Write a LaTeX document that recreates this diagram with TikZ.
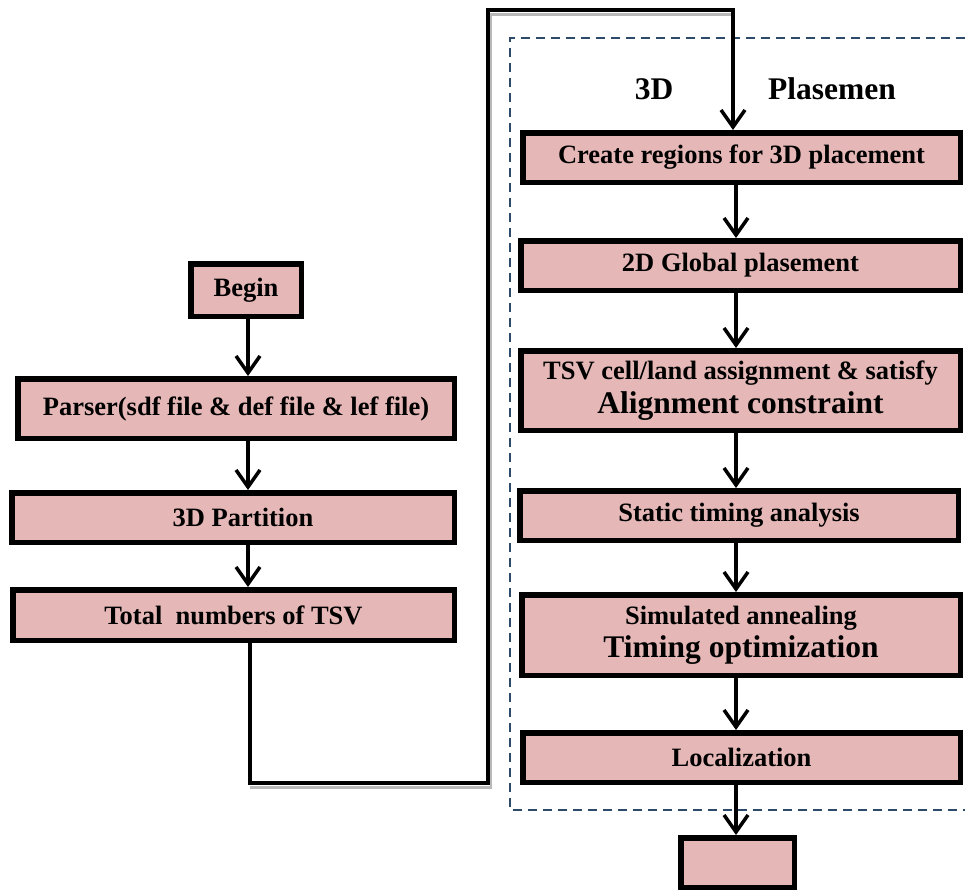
\documentclass[tikz,border=0pt]{standalone}
\usepackage{fontspec}
\setmainfont{Liberation Serif}
\usetikzlibrary{arrows.meta}
\definecolor{boxpink}{HTML}{E5B8B7}
\definecolor{dashblue}{HTML}{2E4A6B}
\begin{document}
\begin{tikzpicture}[x=1pt,y=-1pt,
  fbox/.style={draw=black, line width=5.5pt, fill=boxpink, inner sep=0pt,
    font=\fontsize{26.5}{30}\selectfont\bfseries, align=center},
  arr/.style={line width=3.5pt, -{Straight Barb[length=17pt,width=24pt]}},
  loopline/.style={line width=4pt, line join=miter},
  shadowline/.style={line width=2.5pt, gray!55},
  headtext/.style={font=\fontsize{31.5}{36}\selectfont\bfseries, anchor=base, inner sep=0pt},
  frame/.style={dashblue, line width=2pt, dash pattern=on 9pt off 6pt}
  ]
\useasboundingbox (0,0) rectangle (965,891);

% dashed frame
\coordinate (f1) at (965,38);
\coordinate (f2) at (510,38);
\coordinate (f3) at (510,810);
\coordinate (f4) at (965,810);
\draw[frame] (f1) -- (f2) -- (f3) -- (f4);

% header text
\node[headtext] (t3d) at (654,99) {3D};
\node[headtext] (tpl) at (832,99) {Plasemen};

% left column
\node[fbox, minimum width=110.5pt, minimum height=52.5pt] (begin) at (246,290) {Begin};
\node[fbox, minimum width=436.5pt, minimum height=59.5pt] (parser) at (236,408.5) {Parser(sdf file \& def file \& lef file)};
\node[fbox, minimum width=442.5pt, minimum height=49.5pt] (part) at (233,517.5) {\hspace*{20pt}3D Partition};
\node[fbox, minimum width=441.5pt, minimum height=50.5pt] (total) at (233.5,615) {Total\ \ numbers of TSV};

% right column
\node[fbox, minimum width=437.5pt, minimum height=49.5pt] (create) at (741.5,157.5) {Create regions for 3D placement};
\node[fbox, minimum width=439.5pt, minimum height=49.5pt] (glob) at (740.5,265.5) {2D Global plasement};
\node[fbox, minimum width=439.5pt, minimum height=79.5pt] (tsv) at (740.5,390.5) {TSV cell/land assignment \& satisfy\\[4pt]\fontsize{31.5}{34}\selectfont Alignment constraint};
\node[fbox, minimum width=438.5pt, minimum height=49.5pt] (sta) at (739,515.5) {Static timing analysis};
\node[fbox, minimum width=438.5pt, minimum height=80.5pt] (sim) at (741,635) {Simulated annealing\\[3pt]\fontsize{31.5}{34}\selectfont Timing optimization};
\node[fbox, minimum width=437.5pt, minimum height=49.5pt] (loc) at (741.5,757.5) {Localization};
\node[fbox, minimum width=113.5pt, minimum height=49.5pt] (endn) at (737.5,862.5) {};

% arrow axes
\coordinate (lx) at (248,0);
\coordinate (rx) at (736,0);

% left arrows
\draw[arr] (lx |- begin.south) -- (lx |- parser.north);
\draw[arr] (lx |- parser.south) -- (lx |- part.north);
\draw[arr] (lx |- part.south) -- (lx |- total.north);

% right arrows
\draw[arr] (rx |- create.south) -- (rx |- glob.north);
\draw[arr] (rx |- glob.south) -- (rx |- tsv.north);
\draw[arr] (rx |- tsv.south) -- (rx |- sta.north);
\draw[arr] (rx |- sta.south) -- (rx |- sim.north);
\draw[arr] (rx |- sim.south) -- (rx |- loc.north);
\draw[arr] (rx |- loc.south) -- (rx |- endn.north);

% loop connector
\coordinate (c1) at (250,783);
\coordinate (c2) at (488,783);
\coordinate (c3) at (488,10);
\coordinate (c4) at (733,10);
\draw[shadowline] ([shift={(0,4.5)}]c1) -- ([shift={(3,4.5)}]c2) -- ([shift={(3,4.5)}]c3) -- ([shift={(0,4.5)}]c4);
\draw[loopline, arr] (c1 |- total.south) -- (c1) -- (c2) -- (c3) -- (c4) -- (c4 |- create.north);
\end{tikzpicture}
\end{document}
